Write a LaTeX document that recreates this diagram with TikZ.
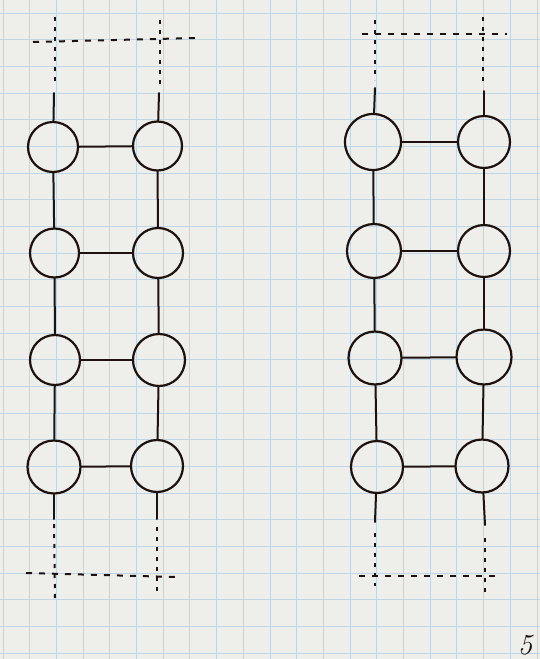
\documentclass[tikz,border=0pt]{standalone}
\definecolor{paper}{RGB}{238,238,234}
\definecolor{gridblue}{RGB}{192,214,228}
\definecolor{ink}{RGB}{30,18,14}
\begin{document}
\begin{tikzpicture}[x=1pt,y=-1pt,
  ball/.style={circle,draw=ink,line width=2.2pt,inner sep=0pt},
  solidink/.style={draw=ink,line width=2pt,line cap=round},
  dashink/.style={draw=ink,line width=2pt,dash pattern=on 4pt off 6pt},
  dashinkh/.style={draw=ink,line width=2pt,dash pattern=on 6pt off 7pt},
  pagenum/.style={text=ink,font=\fontsize{29}{29}\selectfont\itshape,inner sep=0pt}]
\useasboundingbox (0,0) rectangle (540,659);
\fill[paper] (0,0) rectangle (540,659);
% graph paper grid
\foreach \i in {0,...,20} {\draw[gridblue,line width=1pt] ({3+26.7*\i},0) -- ({3+26.7*\i},659);}
\foreach \j in {0,...,24} {\draw[gridblue,line width=1pt] (0,{13+26.67*\j}) -- (540,{13+26.67*\j});}

% ---------- left ladder ----------
\node[ball,minimum size=50pt] (a1) at (53,147) {};
\node[ball,minimum size=49pt] (b1) at (157.5,146) {};
\node[ball,minimum size=49pt] (a2) at (54.5,253) {};
\node[ball,minimum size=50pt] (b2) at (158,253) {};
\node[ball,minimum size=50pt] (a3) at (55,360) {};
\node[ball,minimum size=52pt] (b3) at (159,360) {};
\node[ball,minimum size=53pt] (a4) at (54,467) {};
\node[ball,minimum size=52pt] (b4) at (157,466) {};

\draw[solidink] (a1) -- (b1);
\draw[solidink] (a2) -- (b2);
\draw[solidink] (a3) -- (b3);
\draw[solidink] (a4) -- (b4);
\draw[solidink] (a1) -- (a2);
\draw[solidink] (a2) -- (a3);
\draw[solidink] (a3) -- (a4);
\draw[solidink] (b1) -- (b2);
\draw[solidink] (b2) -- (b3);
\draw[solidink] (b3) -- (b4);

\coordinate (aT0) at (55,17);  \coordinate (aT1) at (55,86);  \coordinate (aT2) at (54,93);
\coordinate (bT0) at (160,20); \coordinate (bT1) at (160,86); \coordinate (bT2) at (159,93);
\coordinate (hT0) at (33,42);  \coordinate (hT1) at (197,38);
\draw[dashink] (aT0) -- (aT1);
\draw[dashink] (bT0) -- (bT1);
\draw[solidink] (aT2) -- (a1);
\draw[solidink] (bT2) -- (b1);
\draw[dashinkh] (hT0) -- (hT1);

\coordinate (aB0) at (54,519); \coordinate (aB1) at (54,524); \coordinate (aB2) at (55,602);
\coordinate (bB0) at (157,519); \coordinate (bB1) at (157,527); \coordinate (bB2) at (157,595);
\coordinate (hB0) at (26,573); \coordinate (hB1) at (176,577);
\draw[solidink] (a4) -- (aB0);
\draw[solidink] (b4) -- (bB0);
\draw[dashink] (aB1) -- (aB2);
\draw[dashink] (bB1) -- (bB2);
\draw[dashinkh] (hB0) -- (hB1);

% ---------- right ladder ----------
\node[ball,minimum size=56pt] (c1) at (373,142) {};
\node[ball,minimum size=52pt] (d1) at (484,142) {};
\node[ball,minimum size=54pt] (c2) at (374,251) {};
\node[ball,minimum size=52pt] (d2) at (484,251) {};
\node[ball,minimum size=53pt] (c3) at (375,358) {};
\node[ball,minimum size=55pt] (d3) at (484,357) {};
\node[ball,minimum size=52pt] (c4) at (377,467) {};
\node[ball,minimum size=53pt] (d4) at (482,466) {};

\draw[solidink] (c1) -- (d1);
\draw[solidink] (c2) -- (d2);
\draw[solidink] (c3) -- (d3);
\draw[solidink] (c4) -- (d4);
\draw[solidink] (c1) -- (c2);
\draw[solidink] (c2) -- (c3);
\draw[solidink] (c3) -- (c4);
\draw[solidink] (d1) -- (d2);
\draw[solidink] (d2) -- (d3);
\draw[solidink] (d3) -- (d4);

\coordinate (cT0) at (375,20); \coordinate (cT1) at (375,80); \coordinate (cT2) at (375,88);
\coordinate (dT0) at (483,17); \coordinate (dT1) at (483,86); \coordinate (dT2) at (484,91);
\coordinate (hT2) at (362,34); \coordinate (hT3) at (507,34);
\draw[dashink] (cT0) -- (cT1);
\draw[dashink] (dT0) -- (dT1);
\draw[solidink] (cT2) -- (c1);
\draw[solidink] (dT2) -- (d1);
\draw[dashinkh] (hT2) -- (hT3);

\coordinate (cB0) at (375,522); \coordinate (cB1) at (375,533); \coordinate (cB2) at (375,586);
\coordinate (dB0) at (485,525); \coordinate (dB1) at (485,538); \coordinate (dB2) at (485,593);
\coordinate (hB2) at (359,576); \coordinate (hB3) at (500,576);
\draw[solidink] (c4) -- (cB0);
\draw[solidink] (d4) -- (dB0);
\draw[dashink] (cB1) -- (cB2);
\draw[dashink] (dB1) -- (dB2);
\draw[dashinkh] (hB2) -- (hB3);

% page number
\node[pagenum] (pg) at (525,645) {5};
\end{tikzpicture}
\end{document}
